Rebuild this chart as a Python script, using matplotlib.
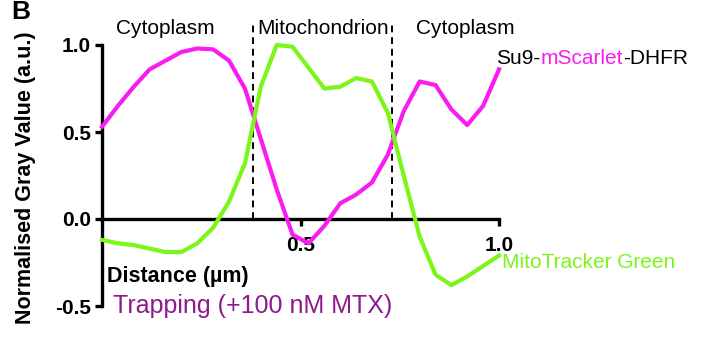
import numpy as np
import matplotlib
matplotlib.use('Agg')
import matplotlib.pyplot as plt

plt.rcParams['font.family'] = ['Liberation Sans', 'DejaVu Sans']

# profile along the line, distance in um
distance = np.linspace(0, 1.0, 26)
scarlet = [0.53, 0.65, 0.76, 0.86, 0.91, 0.96, 0.98, 0.975, 0.91, 0.75,
           0.46, 0.17, -0.09, -0.14, -0.04, 0.09, 0.14, 0.21, 0.37, 0.62,
           0.79, 0.77, 0.63, 0.54, 0.65, 0.86]
mitotracker = [-0.12, -0.14, -0.15, -0.17, -0.19, -0.19, -0.14, -0.05, 0.10, 0.32,
               0.76, 1.0, 0.99, 0.87, 0.75, 0.76, 0.81, 0.79, 0.61, 0.25,
               -0.10, -0.32, -0.38, -0.33, -0.27, -0.21]
boundaries = [0.38, 0.73]
regions = ['Cytoplasm', 'Mitochondrion', 'Cytoplasm']
region_x = [0.16, 0.557, 0.915]

magenta = '#f81cf0'
green = '#7cf518'
purple = '#8e1a8e'

fig = plt.figure(figsize=(7.07, 3.38), dpi=100)
ax = fig.add_axes([102 / 707, 1 - 306 / 338, 397 / 707, 261 / 338])

ax.plot(distance, scarlet, color=magenta, lw=3, clip_on=False, zorder=3)
ax.plot(distance, mitotracker, color=green, lw=3, clip_on=False, zorder=3)

for b in boundaries:
    ax.plot([b, b], [0, 1.12], color='black', lw=1.4, ls=(0, (3.5, 2.5)),
            clip_on=False, zorder=2)

for name, xx in zip(regions, region_x):
    ax.text(xx, 1.095, name, ha='center', va='center', fontsize=15)

ax.set_xlim(0, 1.0)
ax.set_ylim(-0.5, 1.0)
ax.spines['top'].set_visible(False)
ax.spines['right'].set_visible(False)
ax.spines['bottom'].set_position(('data', 0))
ax.spines['left'].set_linewidth(2.4)
ax.spines['bottom'].set_linewidth(2.4)
ax.set_yticks([-0.5, 0, 0.5, 1.0])
ax.set_yticklabels(['-0.5', '0.0', '0.5', '1.0'])
ax.set_xticks([0.5, 1.0])
ax.set_xticklabels(['0.5', '1.0'])
ax.tick_params(width=2.4, length=5, labelsize=15, pad=3)
ax.tick_params(axis='x', pad=7)
for lab in ax.get_xticklabels() + ax.get_yticklabels():
    lab.set_fontweight('bold')

ax.set_ylabel('Normalised Gray Value (a.u.)', fontsize=15.5, fontweight='bold')
ax.yaxis.set_label_coords(-0.165, 0.49)

ax.text(0.013, -0.33, 'Distance (µm)', fontsize=15.5, fontweight='bold', ha='left', va='center')
ax.text(0.028, -0.5, 'Trapping (+100 nM MTX)', fontsize=18, color=purple, ha='left', va='center')

# line labels, multi-coloured top one built piece by piece
r = fig.canvas.get_renderer()
t1 = fig.text(496 / 707, 1 - 58 / 338, 'Su9-', fontsize=15, va='center', ha='left')
x0 = t1.get_window_extent(r).x1
t2 = fig.text(x0 / 707, 1 - 58 / 338, 'mScarlet', fontsize=15, va='center', ha='left', color=magenta)
x1 = t2.get_window_extent(r).x1
fig.text(x1 / 707, 1 - 58 / 338, '-DHFR', fontsize=15, va='center', ha='left')

fig.text(502 / 707, 1 - 262 / 338, 'MitoTracker Green', fontsize=15, va='center', ha='left', color=green)

fig.text(11 / 707, 1 - 12 / 338, 'B', fontsize=19, fontweight='bold', va='center', ha='left')

fig.savefig('out.png', dpi=100)
